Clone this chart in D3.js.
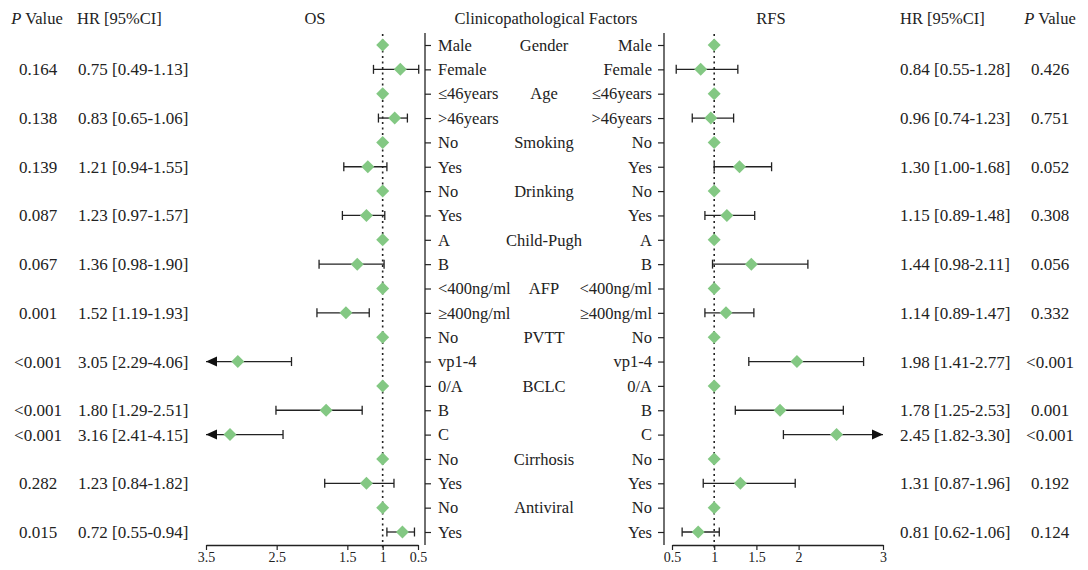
<!DOCTYPE html>
<html>
<head>
<meta charset="utf-8">
<script src="https://cdn.jsdelivr.net/npm/d3@7/dist/d3.min.js"></script>
<style>
  html, body { margin: 0; padding: 0; background: #fff; }
  svg text { font-family: "Liberation Serif", "Times New Roman", serif; fill: #222; }
</style>
</head>
<body>
<svg id="chart" width="1088" height="570"></svg>
<script>
// Subgroup labels, one per row (same on both sides of the centre column)
const subgroups = ["Male", "Female", "\u226446years", ">46years", "No", "Yes", "No", "Yes",
  "A", "B", "<400ng/ml", "\u2265400ng/ml", "No", "vp1-4", "0/A", "B", "C", "No", "Yes", "No", "Yes"];
// Factor names and the row each one is printed on
const factors = ["Gender", "Age", "Smoking", "Drinking", "Child-Pugh", "AFP", "PVTT", "BCLC", "Cirrhosis", "Antiviral"];
const factorRows = [0, 2, 4, 6, 8, 10, 12, 14, 17, 19];

// Overall survival: hazard ratio, 95% CI and P value (null = reference level)
const osHR   = [1, 0.75, 1, 0.83, 1, 1.21, 1, 1.23, 1, 1.36, 1, 1.52, 1, 3.05, 1, 1.80, 3.16, 1, 1.23, 1, 0.72];
const osLow  = [null, 0.49, null, 0.65, null, 0.94, null, 0.97, null, 0.98, null, 1.19, null, 2.29, null, 1.29, 2.41, null, 0.84, null, 0.55];
const osHigh = [null, 1.13, null, 1.06, null, 1.55, null, 1.57, null, 1.90, null, 1.93, null, 4.06, null, 2.51, 4.15, null, 1.82, null, 0.94];
const osP    = [null, "0.164", null, "0.138", null, "0.139", null, "0.087", null, "0.067", null, "0.001", null, "<0.001", null, "<0.001", "<0.001", null, "0.282", null, "0.015"];

// Recurrence-free survival
const rfsHR   = [1, 0.84, 1, 0.96, 1, 1.30, 1, 1.15, 1, 1.44, 1, 1.14, 1, 1.98, 1, 1.78, 2.45, 1, 1.31, 1, 0.81];
const rfsLow  = [null, 0.55, null, 0.74, null, 1.00, null, 0.89, null, 0.98, null, 0.89, null, 1.41, null, 1.25, 1.82, null, 0.87, null, 0.62];
const rfsHigh = [null, 1.28, null, 1.23, null, 1.68, null, 1.48, null, 2.11, null, 1.47, null, 2.77, null, 2.53, 3.30, null, 1.96, null, 1.06];
const rfsP    = [null, "0.426", null, "0.751", null, "0.052", null, "0.308", null, "0.056", null, "0.332", null, "<0.001", null, "0.001", "<0.001", null, "0.192", null, "0.124"];

// Axis ticks
const osTicks  = [3.5, 2.5, 1.5, 1, 0.5];
const rfsTicks = [0.5, 1, 1.5, 2, 3];

const svg = d3.select("#chart");
const FS = 16.5;       // labels and headers
const FS_VAL = 17;     // HR / P value columns
const green = "#83c883";
const ink = "#222";

const y = d3.scalePoint().domain(d3.range(subgroups.length)).range([45, 532]);
const xOS  = d3.scaleLinear().domain([3.5, 0.5]).range([206, 418]);
const xRFS = d3.scaleLinear().domain([0.5, 3]).range([672, 883]);
const axisY = 545;

// Headers
const hdrY = 24;
function header(x, anchor, parts) {
  const t = svg.append("text").attr("x", x).attr("y", hdrY).attr("text-anchor", anchor).attr("font-size", FS);
  parts.forEach(p => t.append("tspan").attr("font-style", p.i ? "italic" : null).text(p.t));
}
header(37, "middle", [{t: "P", i: true}, {t: " Value"}]);
header(77, "start", [{t: "HR [95%CI]"}]);
header(315, "middle", [{t: "OS"}]);
header(546, "middle", [{t: "Clinicopathological Factors"}]);
header(771, "middle", [{t: "RFS"}]);
header(900, "start", [{t: "HR [95%CI]"}]);
header(1050, "middle", [{t: "P", i: true}, {t: " Value"}]);

// Row label axes (vertical lines with ticks)
const rowAxisL = d3.axisRight(y).tickSize(6).tickFormat(i => subgroups[i]);
const rowAxisR = d3.axisLeft(y).tickSize(6).tickFormat(i => subgroups[i]);
function styleRowAxis(g) {
  g.select(".domain").attr("d", `M0,33V${axisY}`).attr("stroke", ink).attr("stroke-width", 1.3);
  g.selectAll(".tick line").attr("stroke", ink).attr("stroke-width", 1.2);
  g.selectAll(".tick text").attr("font-size", FS).attr("font-family", "Liberation Serif, serif").attr("fill", ink);
}
const gL = svg.append("g").attr("transform", "translate(425,0)").call(rowAxisL).call(styleRowAxis);
gL.selectAll(".tick text").attr("x", 13);
const gR = svg.append("g").attr("transform", "translate(664,0)").call(rowAxisR).call(styleRowAxis);
gR.selectAll(".tick text").attr("x", -12);

// Factor names in the centre
svg.append("g").selectAll("text").data(factors).join("text")
  .attr("x", 544).attr("y", (d, i) => y(factorRows[i])).attr("dy", "0.35em")
  .attr("text-anchor", "middle").attr("font-size", FS).text(d => d);

// Horizontal HR axes
function styleX(g) {
  g.select(".domain").attr("stroke", ink).attr("stroke-width", 1.3);
  g.selectAll(".tick line").attr("stroke", ink).attr("stroke-width", 1.2);
  g.selectAll(".tick text").attr("font-size", 14).attr("font-family", "Liberation Serif, serif").attr("fill", ink).attr("dy", "0.62em");
}
svg.append("g").attr("transform", `translate(0,${axisY})`)
  .call(d3.axisBottom(xOS).tickValues(osTicks).tickSize(5).tickSizeOuter(0).tickFormat(d3.format("")))
  .call(styleX);
svg.append("g").attr("transform", `translate(0,${axisY})`)
  .call(d3.axisBottom(xRFS).tickValues(rfsTicks).tickSize(5).tickSizeOuter(0).tickFormat(d3.format("")))
  .call(styleX);

// Null-effect reference lines at HR = 1
[xOS, xRFS].forEach(x => {
  svg.append("line").attr("x1", x(1)).attr("x2", x(1)).attr("y1", 34).attr("y2", 549)
    .attr("stroke", ink).attr("stroke-width", 1.6).attr("stroke-dasharray", "2,3.5");
});

// Forest panel: error bars, arrows for truncated intervals, diamonds
function panel(x, hr, lo, hi, pvals, hrX, pX) {
  const dMax = d3.max(x.domain());
  const g = svg.append("g");
  const rows = d3.range(hr.length);
  const ci = rows.filter(i => lo[i] != null);
  ci.forEach(i => {
    const yy = y(i);
    const clipped = hi[i] > dMax;
    const x1 = x(lo[i]);
    const x2 = x(Math.min(hi[i], dMax));
    g.append("line").attr("x1", x1).attr("x2", x2).attr("y1", yy).attr("y2", yy)
      .attr("stroke", ink).attr("stroke-width", 1.3);
    g.append("line").attr("x1", x1).attr("x2", x1).attr("y1", yy - 4.5).attr("y2", yy + 4.5)
      .attr("stroke", ink).attr("stroke-width", 1.3);
    if (clipped) {
      const dir = Math.sign(x2 - x1);
      g.append("path")
        .attr("d", `M${x2},${yy}L${x2 - dir * 11},${yy - 5}L${x2 - dir * 11},${yy + 5}Z`)
        .attr("fill", "#111");
    } else {
      g.append("line").attr("x1", x2).attr("x2", x2).attr("y1", yy - 4.5).attr("y2", yy + 4.5)
        .attr("stroke", ink).attr("stroke-width", 1.3);
    }
    // HR [95%CI] and P value text
    svg.append("text").attr("x", hrX).attr("y", yy).attr("dy", "0.35em").attr("font-size", FS_VAL)
      .text(`${hr[i].toFixed(2)} [${lo[i].toFixed(2)}-${hi[i].toFixed(2)}]`);
    svg.append("text").attr("x", pX).attr("y", yy).attr("dy", "0.35em").attr("font-size", FS_VAL)
      .attr("text-anchor", "middle").text(pvals[i]);
  });
  g.selectAll("path.dia").data(rows).join("path").attr("class", "dia")
    .attr("transform", i => `translate(${x(hr[i])},${y(i)})`)
    .attr("d", "M0,-6.5L6.5,0L0,6.5L-6.5,0Z")
    .attr("fill", green);
}
panel(xOS, osHR, osLow, osHigh, osP, 78, 38);
panel(xRFS, rfsHR, rfsLow, rfsHigh, rfsP, 900, 1050);
</script>
</body>
</html>
